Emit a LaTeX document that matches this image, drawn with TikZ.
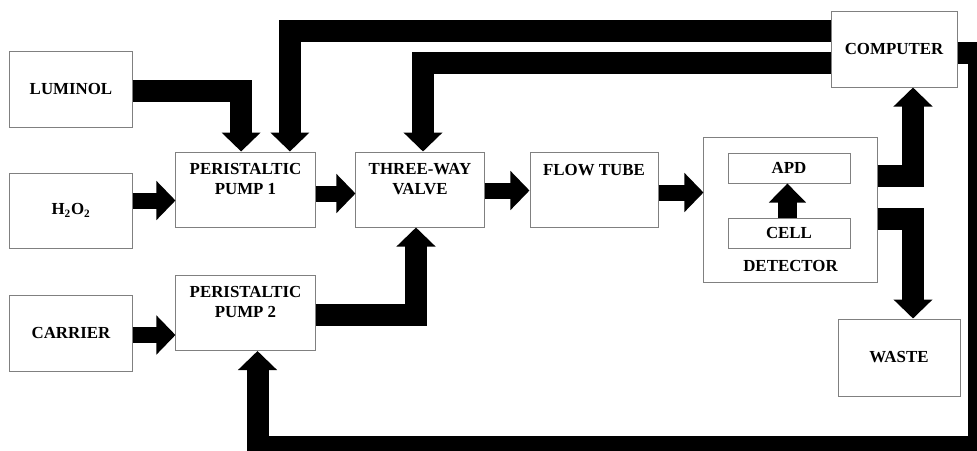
\documentclass[tikz,border=0pt]{standalone}
\usepackage{fontspec}
\setmainfont{Liberation Serif}
\usetikzlibrary{arrows.meta}

\begin{document}
\begin{tikzpicture}[x=0.025cm,y=-0.025cm,font=\fontsize{12}{14}\selectfont\bfseries,
  box/.style={draw=gray,line width=0.7pt,inner sep=0pt,minimum width=3.05cm,minimum height=1.9cm,align=center},
  topbox/.style={box,minimum height=0pt,text height=0.575cm,text depth=1.3cm},
  pairbox/.style={box,minimum height=0pt,text height=1.05cm,text depth=0.825cm},
  pipe/.style={line width=0.55cm,line join=miter,-{Triangle[length=0.475cm,width=0.95cm]}},
  feed/.style={pipe,line width=0.4cm},
  lift/.style={pipe,line width=0.475cm,-{Triangle[length=0.475cm,width=0.9cm]}}]
\clip (0,0) rectangle (977,450);
% sources
\node[box] (lum) at (71,89) {LUMINOL};
\node[box,minimum height=1.875cm] (h2o2) at (71,210.5) {H\textsubscript{2}O\textsubscript{2}};
\node[box] (car) at (71,333) {CARRIER};
% flow line
\node[pairbox,minimum width=3.475cm] (pp1) at (245.5,189.5) {PERISTALTIC\\PUMP 1};
\node[pairbox,minimum width=3.475cm] (pp2) at (245.5,313) {PERISTALTIC\\PUMP 2};
\node[pairbox,minimum width=3.2cm] (tw) at (420,189.5) {THREE-WAY\\VALVE};
\node[topbox,minimum width=3.2cm] (ft) at (594,189.5) {FLOW TUBE};
\node[box,minimum width=4.325cm,minimum height=0pt,text height=3.34cm,text depth=0.26cm] (det) at (790.5,210) {DETECTOR};
\node[box,minimum height=0.75cm] (apd) at (789,168) {APD};
\node[box,minimum height=0.75cm] (cell) at (789,233) {CELL};
\node[box,minimum width=3.15cm] (comp) at (894,49) {COMPUTER};
\node[box,minimum height=1.925cm] (waste) at (899,357.5) {WASTE};
\coordinate (rc) at (978.5,446.5);
% connectors
\draw[pipe] ([yshift=-0.05cm]lum.east) -| ([xshift=-0.11cm]pp1.north);
\draw[feed] ([yshift=0.25cm]h2o2.east) -- ([yshift=0.25cm]h2o2.east -| pp1.west);
\draw[feed] ([yshift=-0.05cm]car.east) -- ([yshift=-0.05cm]car.east -| pp2.west);
\draw[pipe] ([yshift=0.46cm]comp.west) -| ([xshift=1.11cm]pp1.north);
\draw[pipe] ([yshift=-0.36cm]comp.west) -| ([xshift=0.075cm]tw.north);
\draw[feed] ([yshift=-0.1cm]pp1.east) -- ([yshift=-0.1cm]tw.west);
\draw[pipe] ([yshift=-0.04cm]pp2.east) -| ([xshift=-0.1cm]tw.south);
\draw[feed] ([yshift=-0.025cm]tw.east) -- ([yshift=-0.025cm]ft.west);
\draw[feed] ([yshift=-0.075cm]ft.east) -- ([yshift=-0.075cm]ft.east -| det.west);
\draw[lift] ([xshift=-0.04cm]cell.north) -- ([xshift=-0.04cm]apd.south);
\draw[pipe] ([yshift=0.86cm]det.east) -| ([xshift=0.475cm]comp.south);
\draw[pipe] ([yshift=-0.225cm]det.east) -| ([xshift=0.35cm]waste.north);
\draw[pipe] ([yshift=-0.11cm]comp.east) -| (rc) -| ([xshift=0.3cm]pp2.south);
\end{tikzpicture}
\end{document}
